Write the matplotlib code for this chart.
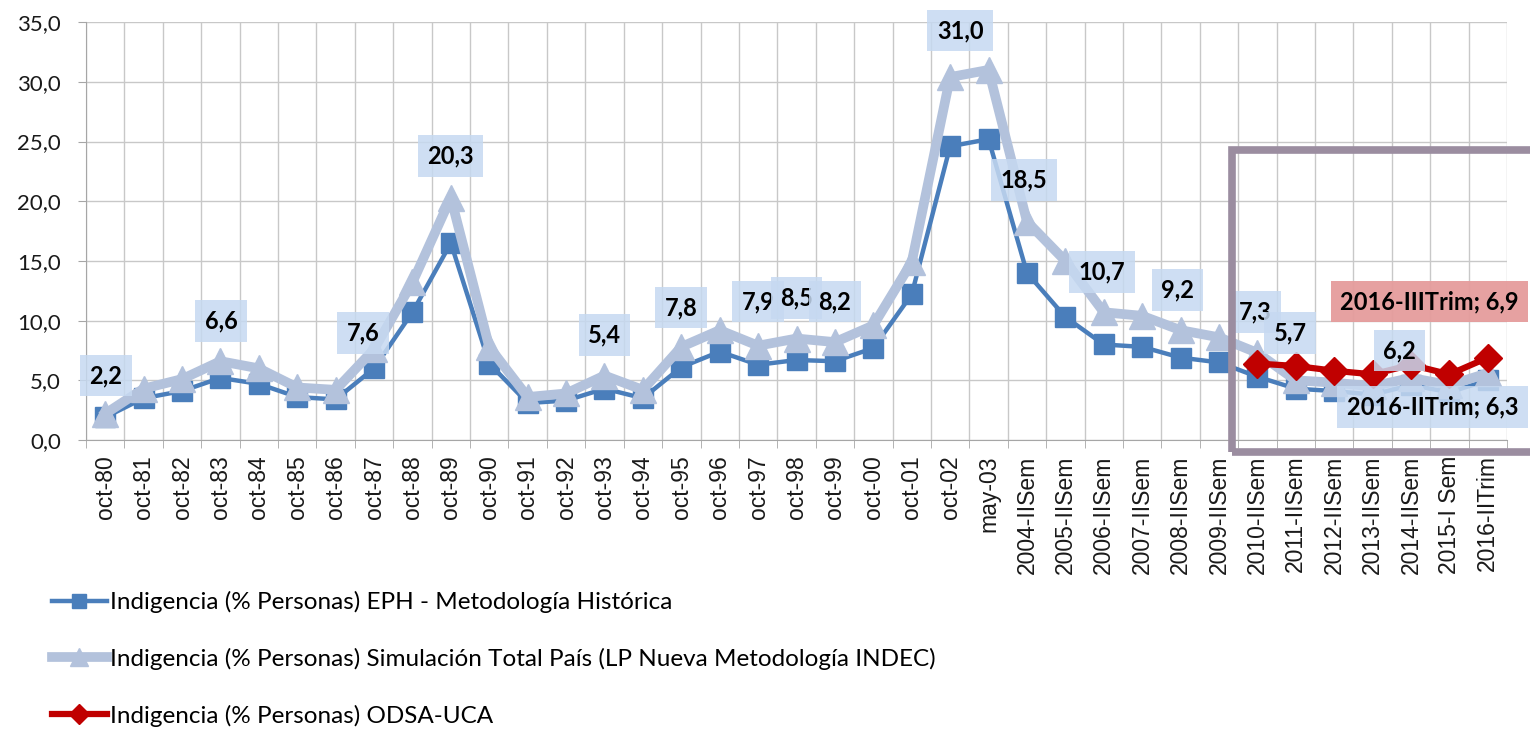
import numpy as np
import matplotlib
matplotlib.use("Agg")
import matplotlib.pyplot as plt
from matplotlib.patches import Rectangle
from matplotlib.ticker import FuncFormatter, FixedLocator

plt.rcParams['font.family'] = ['Lato', 'DejaVu Sans']

# ── data ──────────────────────────────────────────────────────────────────────
categories = [f"oct-{y:02d}" for y in list(range(80, 100)) + [0, 1, 2]] + ["may-03"] + \
             [f"{y}-IISem" for y in range(2004, 2015)] + ["2015-I Sem", "2016-IITrim"]

eph_historica = [1.9, 3.5, 4.1, 5.2, 4.7, 3.6, 3.4, 6.0, 10.7, 16.5, 6.4, 3.1, 3.3, 4.3, 3.5,
                 6.1, 7.4, 6.3, 6.7, 6.6, 7.7, 12.2, 24.6, 25.2, 14.0, 10.3, 8.0, 7.8, 6.9, 6.5,
                 5.3, 4.3, 4.1, 3.8, 4.6, 4.0, 5.0]

simulacion = [2.2, 4.3, 5.1, 6.6, 6.0, 4.4, 4.2, 7.6, 13.2, 20.3, 7.8, 3.6, 3.9, 5.4, 4.2,
              7.8, 9.2, 7.9, 8.5, 8.2, 9.6, 14.9, 30.4, 31.0, 18.3, 15.0, 10.7, 10.4, 9.2, 8.6,
              7.3, 5.0, 4.8, 4.5, 5.2, 4.6, 5.6]

odsa_idx = list(range(30, 37))
odsa_uca = [6.4, 6.2, 5.8, 5.5, 6.3, 5.5, 6.9]

legend_labels = ["Indigencia (% Personas) EPH - Metodología Histórica",
                 "Indigencia (% Personas) Simulación Total País (LP Nueva Metodología INDEC)",
                 "Indigencia (% Personas) ODSA-UCA"]

# data label texts and where they sit (category units, value units)
label_text = ["2,2", "6,6", "7,6", "20,3", "5,4", "7,8", "7,9", "8,5", "8,2", "31,0",
              "18,5", "10,7", "9,2", "7,3", "5,7", "6,2", "2016-IITrim; 6,3"]
label_x = [0.02, 3.02, 6.72, 8.99, 13.0, 15.0, 17.0, 18.0, 19.0, 22.26,
           23.93, 25.96, 27.92, 29.95, 30.86, 33.7, 34.56]
label_y = [5.4, 10.0, 9.0, 23.8, 8.8, 11.1, 11.6, 11.9, 11.6, 34.3,
           21.8, 14.1, 12.6, 10.7, 9.0, 7.5, 2.8]
red_label = "2016-IIITrim; 6,9"
red_label_pos = (34.48, 11.6)

# ── figure ────────────────────────────────────────────────────────────────────
fig = plt.figure(figsize=(15.3, 7.39), dpi=100)
ax = fig.add_axes([0.0562, 0.4046, 0.9288, 0.5654])

x = np.arange(len(categories))
l1, = ax.plot(x, eph_historica, color="#4A7EBB", lw=3.2, marker="s", ms=14,
              mfc="#4A7EBB", mec="#4A7EBB", zorder=3)
l2, = ax.plot(x, simulacion, color="#B3C2DC", lw=7, marker="^", ms=19,
              mfc="#B3C2DC", mec="#B3C2DC", zorder=4)
l3, = ax.plot(odsa_idx, odsa_uca, color="#C00000", lw=4.5, marker="D", ms=14,
              mfc="#C00000", mec="#C00000", zorder=5)

ax.set_xlim(-0.5, len(categories) - 0.5)
ax.set_ylim(0, 35)
ax.set_yticks(np.arange(0, 36, 5))
ax.yaxis.set_major_formatter(FuncFormatter(lambda v, p: f"{v:.1f}".replace(".", ",")))
ax.set_xticks(x)
ax.set_xticklabels(categories, rotation=90, fontsize=16.5, color="#1a1a1a",
                   family=["Liberation Sans", "DejaVu Sans"])
ax.xaxis.set_minor_locator(FixedLocator(np.arange(-0.5, len(categories), 1)))
ax.tick_params(axis="x", which="major", length=0, pad=11)
ax.tick_params(axis="x", which="minor", length=6, color="#A6A6A6")
ax.tick_params(axis="y", labelsize=16, colors="#1a1a1a", length=6, color="#A6A6A6", pad=12)
ax.grid(True, which="minor", axis="x", color="#C8C8C8", lw=1)
ax.grid(True, which="major", axis="y", color="#C8C8C8", lw=1)
ax.set_axisbelow(True)
for s in ["top", "right"]:
    ax.spines[s].set_visible(False)
for s in ["left", "bottom"]:
    ax.spines[s].set_color("#A6A6A6")

for t, lx, ly in zip(label_text, label_x, label_y):
    ax.text(lx, ly, t, ha="center", va="center", fontsize=17, fontweight="bold",
            color="black", zorder=6, clip_on=False,
            bbox=dict(boxstyle="square,pad=0.4", fc="#C6D9F1", ec="none", alpha=0.85))
ax.text(*red_label_pos, red_label, ha="center", va="center", fontsize=17, fontweight="bold",
        color="black", zorder=6, clip_on=False,
        bbox=dict(boxstyle="square,pad=0.4", fc="#E59C9C", ec="none", alpha=0.95))

# highlight box around the recent period
ax.add_patch(Rectangle((29.33, -1.0), 8.5, 25.3, fill=False, ec="#9B8DA0", lw=5.5,
                       clip_on=False, zorder=7))

fig.legend([l1, l2, l3], legend_labels, loc="upper left", bbox_to_anchor=(0.034, 0.2),
           frameon=False, fontsize=17.5, labelspacing=1.42, handlelength=2.25,
           handletextpad=0.15, markerscale=0.7, borderpad=0, borderaxespad=0)

fig.savefig("out.png", dpi=100)
